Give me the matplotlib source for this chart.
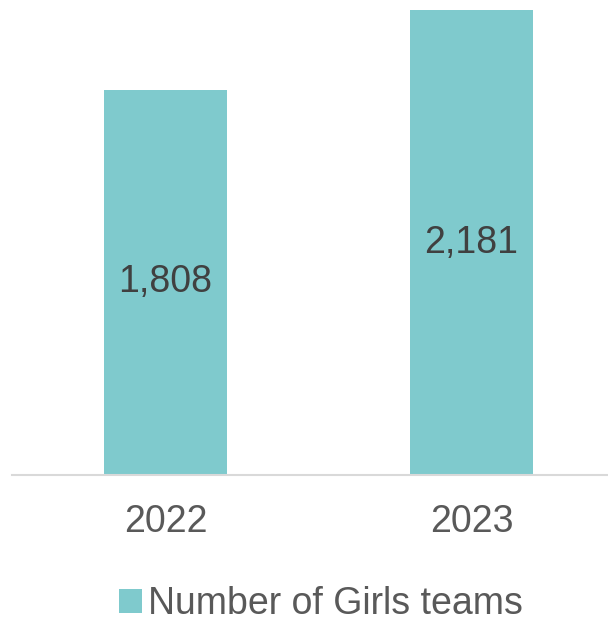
import matplotlib
matplotlib.use('Agg')
import matplotlib.pyplot as plt

years = ['2022', '2023']
girls_teams = [1808, 2181]
series_name = 'Number of Girls teams'

plt.rcParams['font.family'] = ['Liberation Sans', 'DejaVu Sans']

fig = plt.figure(figsize=(6.08, 6.22), dpi=100)
# axes spans from the baseline up to the top edge
ax = fig.add_axes([12 / 608, 1 - 475 / 622, 596 / 608, 475 / 622])

bar_color = '#7FCACD'
x = list(range(len(years)))
bars = ax.bar(x, girls_teams, width=0.40, color=bar_color, label=series_name)

for rect, v in zip(bars, girls_teams):
    ax.text(rect.get_x() + rect.get_width() / 2, v / 2, f'{v:,}',
            ha='center', va='center', fontsize=27, color='#404040')

ax.set_xlim(-0.502, 1.446)
ax.set_ylim(0, 2228)
ax.set_xticks(x)
ax.set_xticklabels(years, fontsize=27, color='#595959')
ax.tick_params(axis='x', length=0, pad=21)
ax.set_yticks([])
for side in ['top', 'right', 'left']:
    ax.spines[side].set_visible(False)
ax.spines['bottom'].set_color('#D9D9D9')
ax.spines['bottom'].set_linewidth(1.5)

leg = fig.legend(loc='center', bbox_to_anchor=(0.528, 1 - 604 / 622), frameon=False,
                 fontsize=27, handlelength=0.62, handleheight=0.62, handletextpad=0.15,
                 borderpad=0.1)
for t in leg.get_texts():
    t.set_color('#595959')

fig.savefig('out.png', dpi=100)
